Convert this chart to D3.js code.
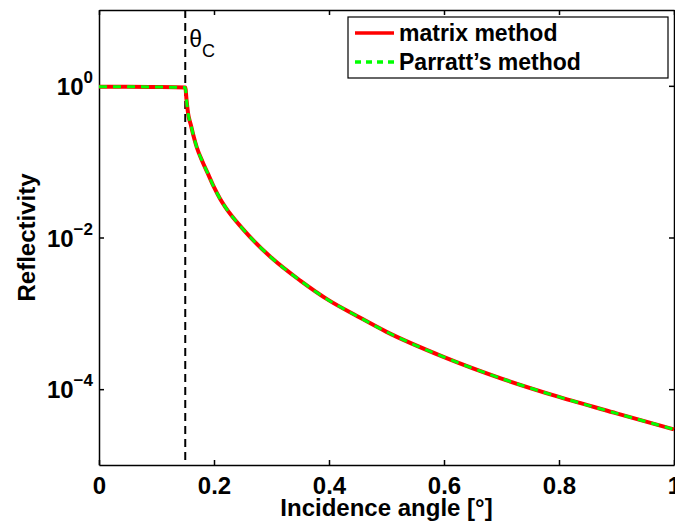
<!DOCTYPE html>
<html>
<head>
<meta charset="utf-8">
<script src="https://cdn.jsdelivr.net/npm/d3@7"></script>
<style>
  body { margin: 0; background: #fff; }
  text { font-family: "Liberation Sans", Arial, Helvetica, sans-serif; }
  .axis text { font-size: 24px; font-weight: bold; fill: #000; }
  .axis path, .axis line { stroke: #000; stroke-width: 1.5; }
</style>
</head>
<body>
<div id="chart"></div>
<script>
// Incidence angles [deg]
var angles = [0, 0.05, 0.1, 0.15, 0.1525, 0.155, 0.16, 0.165, 0.17, 0.18, 0.19, 0.2, 0.21, 0.22,
  0.25, 0.3, 0.35, 0.4, 0.45, 0.5, 0.6, 0.7, 0.8, 0.9, 1.0];

// Reflectivity (matrix method)
var matrixValues = [0.97, 0.97, 0.965, 0.95, 0.62, 0.43, 0.3, 0.21, 0.155, 0.1, 0.068, 0.046, 0.033, 0.025,
  0.013, 0.0054, 0.0027, 0.00148, 0.00091, 0.00057, 0.000265, 0.000138, 0.000079, 0.000048, 0.0000295];

// Reflectivity (Parratt's method) - same curve
var parrattValues = [0.97, 0.97, 0.965, 0.95, 0.62, 0.43, 0.3, 0.21, 0.155, 0.1, 0.068, 0.046, 0.033, 0.025,
  0.013, 0.0054, 0.0027, 0.00148, 0.00091, 0.00057, 0.000265, 0.000138, 0.000079, 0.000048, 0.0000295];

var xTicks = [0, 0.2, 0.4, 0.6, 0.8, 1];
var xTickLabels = ["0", "0.2", "0.4", "0.6", "0.8", "1"];
var yTicks = [1, 1e-2, 1e-4];
var yTickExponents = ["0", "\u22122", "\u22124"];
var criticalAngle = 0.15;
var seriesNames = ["matrix method", "Parratt\u2019s method"];

// SVG area
var svgWidth = 675;
var svgHeight = 523;

var chartMargin = {
  top: 10,
  right: 1,
  bottom: 58,
  left: 99
};

var chartWidth = svgWidth - chartMargin.left - chartMargin.right;
var chartHeight = svgHeight - chartMargin.top - chartMargin.bottom;

var svg = d3.select("#chart")
  .append("svg")
  .attr("width", svgWidth)
  .attr("height", svgHeight);

var chartGroup = svg.append("g")
  .attr("transform", `translate(${chartMargin.left}, ${chartMargin.top})`);

// scales
var xScale = d3.scaleLinear()
  .domain([0, 1])
  .range([0, chartWidth]);

var yScale = d3.scaleLog()
  .domain([1e-5, 1e1])
  .range([chartHeight, 0]);

// axes (ticks point inward, like matlab)
var bottomAxis = d3.axisBottom(xScale)
  .tickValues(xTicks)
  .tickFormat((d, i) => xTickLabels[i])
  .tickSizeInner(-5)
  .tickSizeOuter(0)
  .tickPadding(12);

var topAxis = d3.axisTop(xScale)
  .tickValues(xTicks)
  .tickFormat("")
  .tickSizeInner(-5)
  .tickSizeOuter(0);

var leftAxis = d3.axisLeft(yScale)
  .tickValues(yTicks)
  .tickFormat("")
  .tickSizeInner(-5)
  .tickSizeOuter(0);

var rightAxis = d3.axisRight(yScale)
  .tickValues(yTicks)
  .tickFormat("")
  .tickSizeInner(-5)
  .tickSizeOuter(0);

chartGroup.append("g")
  .attr("class", "axis")
  .attr("transform", `translate(0, ${chartHeight})`)
  .call(bottomAxis);

chartGroup.append("g")
  .attr("class", "axis")
  .call(topAxis);

chartGroup.append("g")
  .attr("class", "axis")
  .call(leftAxis);

chartGroup.append("g")
  .attr("class", "axis")
  .attr("transform", `translate(${chartWidth}, 0)`)
  .call(rightAxis);

// y tick labels 10^n
var yLabels = chartGroup.append("g")
  .attr("class", "axis")
  .selectAll("text")
  .data(yTicks)
  .enter()
  .append("text")
  .attr("x", -6)
  .attr("y", d => yScale(d) + 9)
  .attr("text-anchor", "end");

yLabels.append("tspan")
  .text("10");

yLabels.append("tspan")
  .attr("dy", -12)
  .style("font-size", "17px")
  .text((d, i) => yTickExponents[i]);

// axis labels
chartGroup.append("text")
  .attr("x", chartWidth / 2)
  .attr("y", chartHeight + 51)
  .attr("text-anchor", "middle")
  .style("font-size", "24px")
  .style("font-weight", "bold")
  .text("Incidence angle [\u00b0]");

chartGroup.append("text")
  .attr("transform", "rotate(-90)")
  .attr("x", -chartHeight / 2)
  .attr("y", 35 - chartMargin.left)
  .attr("text-anchor", "middle")
  .style("font-size", "24px")
  .style("font-weight", "bold")
  .text("Reflectivity");

// critical angle marker
chartGroup.append("line")
  .attr("x1", xScale(criticalAngle))
  .attr("x2", xScale(criticalAngle))
  .attr("y1", 0)
  .attr("y2", chartHeight)
  .attr("stroke", "#000")
  .attr("stroke-width", 2)
  .attr("stroke-dasharray", "8,5");

var thetaLabel = chartGroup.append("text")
  .attr("x", xScale(criticalAngle) + 4)
  .attr("y", 37)
  .style("font-size", "23px");

thetaLabel.append("tspan").text("\u03b8");
thetaLabel.append("tspan")
  .attr("dy", 10)
  .style("font-size", "18px")
  .text("C");

// curves
var matrixData = angles.map((a, i) => ({ angle: a, value: matrixValues[i] }));
var parrattData = angles.map((a, i) => ({ angle: a, value: parrattValues[i] }));

var drawLine = d3.line()
  .x(d => xScale(d.angle))
  .y(d => yScale(d.value))
  .curve(d3.curveMonotoneX);

chartGroup.append("path")
  .attr("d", drawLine(matrixData))
  .attr("fill", "none")
  .attr("stroke", "#ff0000")
  .attr("stroke-width", 4);

chartGroup.append("path")
  .attr("d", drawLine(parrattData))
  .attr("fill", "none")
  .attr("stroke", "#00ff00")
  .attr("stroke-width", 3)
  .attr("stroke-dasharray", "8,6");

// legend
var legend = svg.append("g")
  .attr("transform", "translate(348, 17)");

legend.append("rect")
  .attr("width", 320)
  .attr("height", 61)
  .attr("fill", "#fff")
  .attr("stroke", "#000")
  .attr("stroke-width", 1.2);

var legendColors = ["#ff0000", "#00ff00"];
var legendDash = [null, "6,5"];

legendColors.forEach(function(color, i) {
  var y = 16 + i * 29;
  legend.append("line")
    .attr("x1", 7)
    .attr("x2", 46)
    .attr("y1", y)
    .attr("y2", y)
    .attr("stroke", color)
    .attr("stroke-width", 3.5)
    .attr("stroke-dasharray", legendDash[i]);

  legend.append("text")
    .attr("x", 51)
    .attr("y", y + 8)
    .style("font-size", "23px")
    .style("font-weight", "bold")
    .text(seriesNames[i]);
});
</script>
</body>
</html>
